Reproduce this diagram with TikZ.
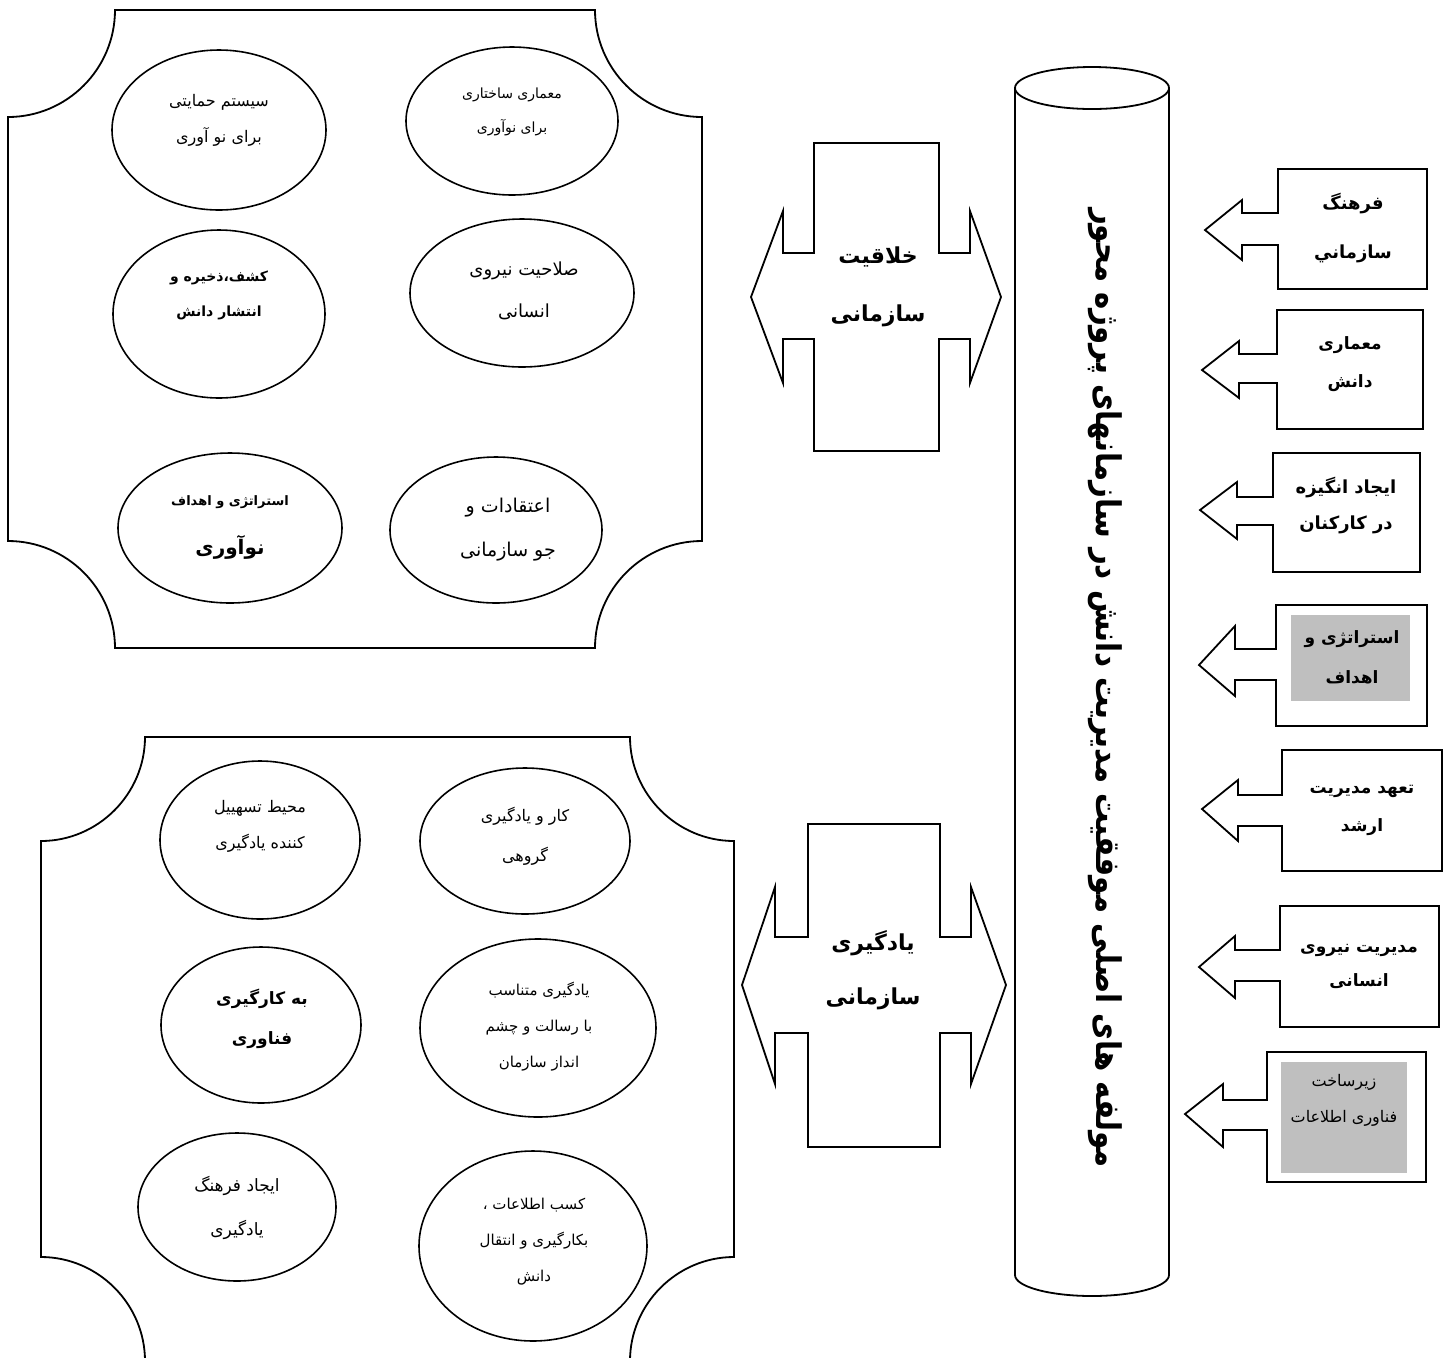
\documentclass[tikz,border=0pt]{standalone}
\usepackage{fontspec}
\usepackage{graphicx}
\usetikzlibrary{shapes.geometric}
\TeXXeTstate=1
\newfontfamily\fa[Script=Arabic]{DejaVu Sans}
\newcommand\RL[1]{\beginR #1\endR}
\definecolor{boxgray}{RGB}{191,191,191}
\tikzset{
  ell/.style={draw, ellipse, line width=0.8pt, inner sep=0pt},
  txt/.style={align=center, inner sep=0pt},
  shp/.style={draw, line width=0.9pt, line join=miter},
}
\begin{document}
\begin{tikzpicture}[x=0.5pt,y=-0.5pt]
\useasboundingbox (0,0) rectangle (1448,1357);
\clip (0,0) rectangle (1448,1357);

% ---------- top frame ----------
\draw[shp] (115,10) -- (595,10) .. controls +(0,59) and +(-59,0) .. (702,117)
  -- (702,541) .. controls +(-59,0) and +(0,-59) .. (595,648)
  -- (115,648) .. controls +(0,-59) and +(59,0) .. (8,541)
  -- (8,117) .. controls +(59,0) and +(0,59) .. (115,10) -- cycle;

\node[ell, minimum width=107pt, minimum height=80pt] (e1) at (219,130) {};
\node[ell, minimum width=106pt, minimum height=74pt] (e2) at (512,121) {};
\node[ell, minimum width=106pt, minimum height=84pt] (e3) at (219,314) {};
\node[ell, minimum width=112pt, minimum height=74pt] (e4) at (522,293) {};
\node[ell, minimum width=112pt, minimum height=75pt] (e5) at (230,528) {};
\node[ell, minimum width=106pt, minimum height=73pt] (e6) at (496,530) {};

\node[txt, font=\fa\fontsize{8}{18}\selectfont] (t1) at (219,120) {\RL{سیستم حمایتی}\\\RL{برای نو آوری}};
\node[txt, font=\fa\fontsize{7}{17}\selectfont] (t2) at (512,112) {\RL{معماری ساختاری}\\\RL{برای نوآوری}};
\node[txt, font=\fa\bfseries\fontsize{7}{17.5}\selectfont] (t3) at (219,295) {\RL{کشف،ذخیره و}\\\RL{انتشار دانش}};
\node[txt, font=\fa\fontsize{9}{21}\selectfont] (t4) at (524,291) {\RL{صلاحیت نیروی}\\\RL{انسانی}};
\node[txt, font=\fa\bfseries\fontsize{6.5}{8}\selectfont] (t5a) at (230,502) {\RL{استراتژی و اهداف}};
\node[txt, font=\fa\bfseries\fontsize{10}{12}\selectfont] (t5b) at (230,547) {\RL{نوآوری}};
\node[txt, font=\fa\fontsize{9.5}{22}\selectfont] (t6) at (508,530) {\RL{اعتقادات و}\\\RL{جو سازمانی}};

% ---------- bottom frame ----------
\draw[shp] (145,737) -- (630,737) .. controls +(0,57) and +(-57,0) .. (734,841)
  -- (734,1257) .. controls +(-57,0) and +(0,-57) .. (630,1361)
  -- (145,1361) .. controls +(0,-57) and +(57,0) .. (41,1257)
  -- (41,841) .. controls +(57,0) and +(0,57) .. (145,737) -- cycle;

\node[ell, minimum width=100pt, minimum height=79pt] (b1) at (260,840) {};
\node[ell, minimum width=105pt, minimum height=73pt] (b2) at (525,841) {};
\node[ell, minimum width=100pt, minimum height=78pt] (b3) at (261,1025) {};
\node[ell, minimum width=118pt, minimum height=89pt] (b4) at (538,1028) {};
\node[ell, minimum width=99pt, minimum height=74pt] (b5) at (237,1207) {};
\node[ell, minimum width=114pt, minimum height=95pt] (b6) at (533,1246) {};

\node[txt, font=\fa\fontsize{8}{18}\selectfont] (u1) at (260,826) {\RL{محیط تسهییل}\\\RL{کننده یادگیری}};
\node[txt, font=\fa\fontsize{8}{20}\selectfont] (u2) at (525,836) {\RL{کار و یادگیری}\\\RL{گروهی}};
\node[txt, font=\fa\bfseries\fontsize{8.5}{20}\selectfont] (u3) at (262,1019) {\RL{به کارگیری}\\\RL{فناوری}};
\node[txt, font=\fa\fontsize{7.5}{18}\selectfont] (u4) at (539,1027) {\RL{یادگیری متناسب}\\\RL{با رسالت و چشم}\\\RL{انداز سازمان}};
\node[txt, font=\fa\fontsize{8.5}{22}\selectfont] (u5) at (237,1208) {\RL{ایجاد فرهنگ}\\\RL{یادگیری}};
\node[txt, font=\fa\fontsize{7.5}{18}\selectfont] (u6) at (534,1242) {\RL{کسب اطلاعات ،}\\\RL{بکارگیری و انتقال}\\\RL{دانش}};

% ---------- double arrows ----------
\draw[shp] (814,143) -- (939,143) -- (939,253) -- (970,253) -- (970,211) -- (1001,297)
  -- (970,383) -- (970,339) -- (939,339) -- (939,451) -- (814,451) -- (814,339)
  -- (783,339) -- (783,383) -- (751,297) -- (783,211) -- (783,253) -- (814,253) -- cycle;
\node[txt, font=\fa\bfseries\fontsize{11}{29}\selectfont] (c1) at (878,287) {\RL{خلاقیت}\\\RL{سازمانی}};

\draw[shp] (808,824) -- (940,824) -- (940,937) -- (971,937) -- (971,887) -- (1006,985)
  -- (971,1084) -- (971,1033) -- (940,1033) -- (940,1147) -- (808,1147) -- (808,1033)
  -- (775,1033) -- (775,1084) -- (742,985) -- (775,887) -- (775,937) -- (808,937) -- cycle;
\node[txt, font=\fa\bfseries\fontsize{11}{27}\selectfont] (c2) at (873,970) {\RL{یادگیری}\\\RL{سازمانی}};

% ---------- cylinder ----------
\draw[shp] (1015,88) -- (1015,1275) .. controls +(0,11.6) and +(-42.5,0) .. (1092,1296)
  .. controls +(42.5,0) and +(0,11.6) .. (1169,1275) -- (1169,88);
\draw[shp] (1092,88) ellipse [x radius=77, y radius=21];
\node[txt, rotate=-90, font=\fa\bfseries\fontsize{17}{20}\selectfont] (cyl) at (1105,688)
  {\scalebox{0.86}[1]{\RL{مولفه های اصلی موفقیت مدیریت دانش در سازمانهای پروژه محور}}};

% ---------- right arrows ----------
\draw[shp] (1278,169) -- (1427,169) -- (1427,289) -- (1278,289) -- (1278,245) -- (1242,245)
  -- (1242,260) -- (1205,230) -- (1242,200) -- (1242,213) -- (1278,213) -- cycle;
\node[txt, font=\fa\bfseries\fontsize{9}{24.5}\selectfont] (r1) at (1353,228) {\RL{فرهنگ}\\\RL{سازماني}};

\draw[shp] (1277,310) -- (1423,310) -- (1423,429) -- (1277,429) -- (1277,383) -- (1239,383)
  -- (1239,398) -- (1202,370) -- (1239,341) -- (1239,354) -- (1277,354) -- cycle;
\node[txt, font=\fa\bfseries\fontsize{8.5}{19}\selectfont] (r2) at (1350,364) {\RL{معماری}\\\RL{دانش}};

\draw[shp] (1273,453) -- (1420,453) -- (1420,572) -- (1273,572) -- (1273,525) -- (1237,525)
  -- (1237,539) -- (1200,510) -- (1237,482) -- (1237,497) -- (1273,497) -- cycle;
\node[txt, font=\fa\bfseries\fontsize{9}{18}\selectfont] (r3) at (1346,505) {\RL{ایجاد انگیزه}\\\RL{در کارکنان}};

\draw[shp] (1276,605) -- (1427,605) -- (1427,726) -- (1276,726) -- (1276,680) -- (1235,680)
  -- (1235,696) -- (1199,665) -- (1235,626) -- (1235,649) -- (1276,649) -- cycle;
\fill[boxgray] (1291,615) rectangle (1410,701);
\node[txt, font=\fa\bfseries\fontsize{8.5}{20}\selectfont] (r4) at (1352,657) {\RL{استراتژی و}\\\RL{اهداف}};

\draw[shp] (1282,750) -- (1442,750) -- (1442,871) -- (1282,871) -- (1282,826) -- (1238,826)
  -- (1238,841) -- (1202,809) -- (1238,780) -- (1238,795) -- (1282,795) -- cycle;
\node[txt, font=\fa\bfseries\fontsize{8.5}{19}\selectfont] (r5) at (1362,810) {\RL{تعهد مدیریت}\\\RL{ارشد}};

\draw[shp] (1280,906) -- (1439,906) -- (1439,1027) -- (1280,1027) -- (1280,981) -- (1235,981)
  -- (1235,998) -- (1199,967) -- (1235,936) -- (1235,950) -- (1280,950) -- cycle;
\node[txt, font=\fa\bfseries\fontsize{8.5}{17}\selectfont] (r6) at (1359,966) {\RL{مدیریت نیروی}\\\RL{انسانی}};

\draw[shp] (1267,1052) -- (1426,1052) -- (1426,1182) -- (1267,1182) -- (1267,1130) -- (1223,1130)
  -- (1223,1147) -- (1185,1114) -- (1223,1084) -- (1223,1100) -- (1267,1100) -- cycle;
\fill[boxgray] (1281,1062) rectangle (1407,1173);
\node[txt, font=\fa\fontsize{8}{18}\selectfont] (r7) at (1344,1100) {\RL{زیرساخت}\\\RL{فناوری اطلاعات}};

\end{tikzpicture}
\end{document}
